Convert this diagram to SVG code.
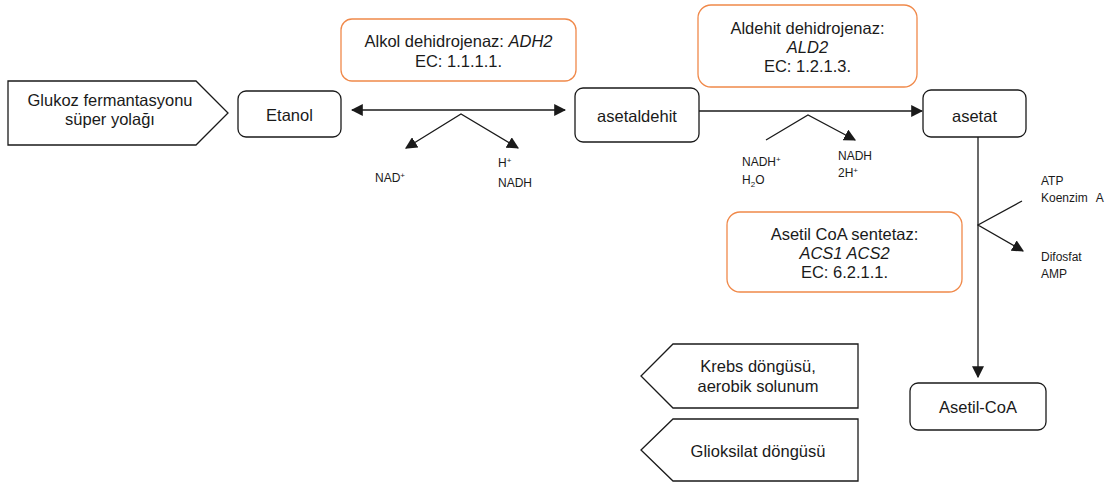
<svg xmlns="http://www.w3.org/2000/svg" width="1113" height="482" viewBox="0 0 1113 482">
  <style>
    .node { fill: #ffffff; stroke: #1a1a1a; stroke-width: 1.3; }
    .enzyme { fill: #ffffff; stroke: #f0894a; stroke-width: 1.3; }
    .t { font-family: "Liberation Sans", Arial, sans-serif; font-size: 16.5px; fill: #1a1a1a; text-anchor: middle; }
    .s { font-family: "Liberation Sans", Arial, sans-serif; font-size: 12px; fill: #1a1a1a; }
    .i { font-style: italic; }
    .edge { fill: none; stroke: #1a1a1a; stroke-width: 1.3; }
  </style>
  <defs>
    <marker id="arrow" viewBox="0 0 10 10" refX="9" refY="5" markerWidth="12" markerHeight="12" markerUnits="userSpaceOnUse" orient="auto-start-reverse">
      <path d="M0,0 L10,5 L0,10 Z" fill="#1a1a1a"/>
    </marker>
  </defs>
  <rect width="1113" height="482" fill="#ffffff"/>

  <!-- pathway inputs / outputs -->
  <g id="glukoz">
    <path class="node" d="M8,81 H196 L228,113 L196,145 H8 Z"/>
    <text class="t" x="110" y="106">Glukoz fermantasyonu</text>
    <text class="t" x="110" y="125">süper yolağı</text>
  </g>
  <g id="krebs">
    <path class="node" d="M858,344 H673 L641,376 L673,408 H858 Z"/>
    <text class="t" x="758" y="372">Krebs döngüsü,</text>
    <text class="t" x="758" y="392">aerobik solunum</text>
  </g>
  <g id="glioksilat">
    <path class="node" d="M858,419 H673 L641,450 L673,481 H858 Z"/>
    <text class="t" x="758" y="457">Glioksilat döngüsü</text>
  </g>

  <!-- metabolites -->
  <g id="etanol">
    <rect class="node" x="238" y="91" width="103" height="46" rx="8"/>
    <text class="t" x="289.5" y="121">Etanol</text>
  </g>
  <g id="asetaldehit">
    <rect class="node" x="575" y="88" width="124" height="54" rx="8"/>
    <text class="t" x="637" y="122">asetaldehit</text>
  </g>
  <g id="asetat">
    <rect class="node" x="923" y="90" width="103" height="47" rx="8"/>
    <text class="t" x="974.5" y="122">asetat</text>
  </g>
  <g id="asetil-coa">
    <rect class="node" x="910" y="383" width="136" height="47" rx="8"/>
    <text class="t" x="978" y="413">Asetil-CoA</text>
  </g>

  <!-- enzymes -->
  <g id="adh">
    <rect class="enzyme" x="341" y="19" width="235" height="62" rx="11"/>
    <text class="t" x="458.5" y="47">Alkol dehidrojenaz: <tspan class="i">ADH2</tspan></text>
    <text class="t" x="458.5" y="67">EC: 1.1.1.1.</text>
  </g>
  <g id="ald">
    <rect class="enzyme" x="698" y="5" width="219" height="82" rx="13"/>
    <text class="t" x="807.5" y="34">Aldehit dehidrojenaz:</text>
    <text class="t i" x="807.5" y="53">ALD2</text>
    <text class="t" x="807.5" y="72">EC: 1.2.1.3.</text>
  </g>
  <g id="acs">
    <rect class="enzyme" x="727" y="212" width="235" height="80" rx="13"/>
    <text class="t" x="844.5" y="240">Asetil CoA sentetaz:</text>
    <text class="t i" x="844.5" y="259">ACS1 ACS2</text>
    <text class="t" x="844.5" y="278">EC: 6.2.1.1.</text>
  </g>

  <!-- cofactor labels -->
  <g id="cofactors">
    <text class="s" x="375" y="182">NAD<tspan font-size="8" dy="-4">+</tspan></text>
    <text class="s" x="498" y="167">H<tspan font-size="8" dy="-4">+</tspan></text>
    <text class="s" x="498" y="187">NADH</text>
    <text class="s" x="742" y="166">NADH<tspan font-size="8" dy="-4">+</tspan></text>
    <text class="s" x="742" y="184">H<tspan font-size="8" dy="3">2</tspan><tspan dy="-3">O</tspan></text>
    <text class="s" x="838" y="160">NADH</text>
    <text class="s" x="838" y="177">2H<tspan font-size="8" dy="-4">+</tspan></text>
    <text class="s" x="1041" y="185">ATP</text>
    <text class="s" x="1041" y="202">Koenzim<tspan dx="8">A</tspan></text>
    <text class="s" x="1041" y="261">Difosfat</text>
    <text class="s" x="1041" y="278">AMP</text>
  </g>

  <!-- connectors -->
  <g id="connectors">
    <line class="edge" x1="352" y1="110" x2="565" y2="110" marker-start="url(#arrow)" marker-end="url(#arrow)"/>
    <polyline class="edge" points="406,148 461,114 518,148" marker-start="url(#arrow)" marker-end="url(#arrow)"/>
    <line class="edge" x1="699" y1="111" x2="922" y2="111" marker-end="url(#arrow)"/>
    <polyline class="edge" points="766,140 808,115 855,140" marker-end="url(#arrow)"/>
    <line class="edge" x1="978" y1="137" x2="978" y2="377" marker-end="url(#arrow)"/>
    <polyline class="edge" points="1022,201 978,225 1023,251" marker-end="url(#arrow)"/>
  </g>
</svg>
